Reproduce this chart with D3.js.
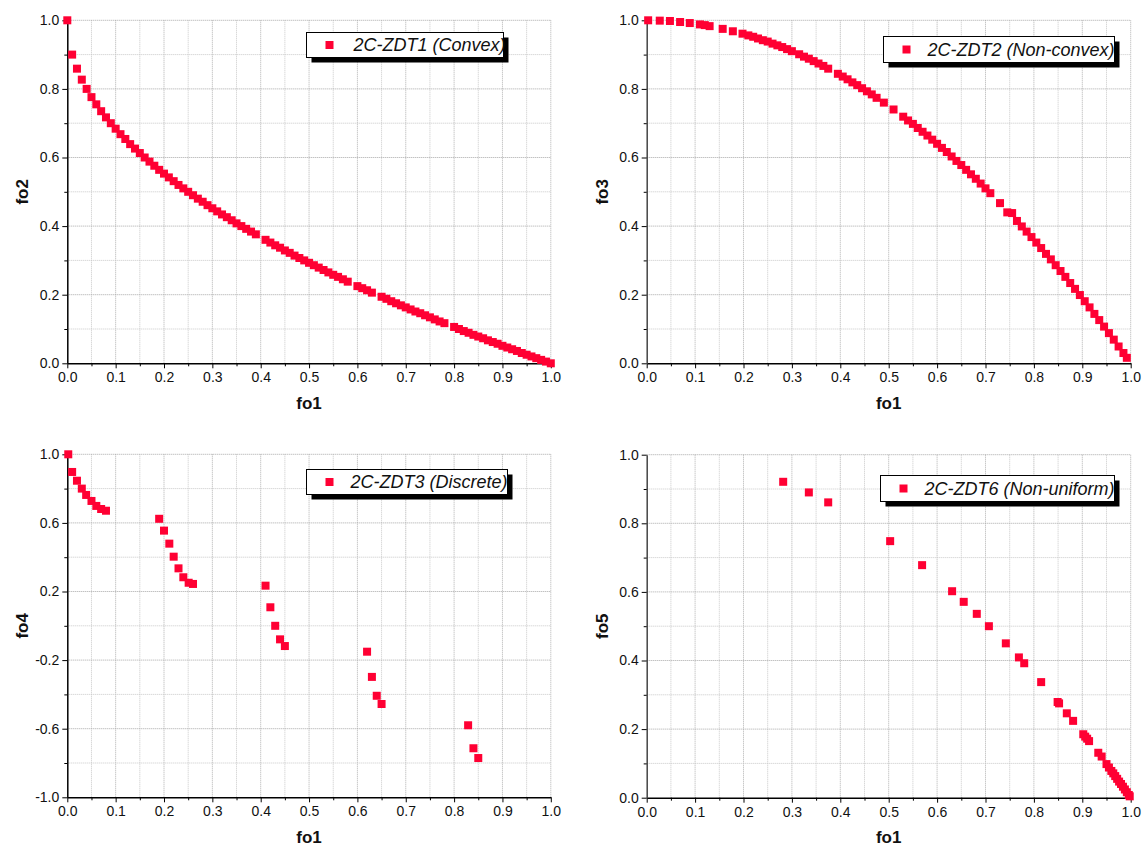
<!DOCTYPE html>
<html>
<head>
<meta charset="utf-8">
<script src="https://cdn.jsdelivr.net/npm/d3@7"></script>
<style>
html,body{margin:0;padding:0;background:#fff;}
svg{display:block;font-family:Arial,"Liberation Sans",sans-serif;}
</style>
</head>
<body>
<svg id="chart" width="1142" height="849"></svg>
<script>
// ---------- DATA ----------
const zdt1_f1 = [0,0.01,0.02,0.03,0.04,0.05,0.06,0.07,0.08,0.09,0.10,0.11,0.12,0.13,0.14,0.15,0.16,0.17,0.18,0.19,0.20,0.21,0.22,0.23,0.24,0.25,0.26,0.27,0.28,0.29,0.30,0.31,0.32,0.33,0.34,0.35,0.36,0.37,0.38,0.39,0.41,0.42,0.43,0.44,0.45,0.46,0.47,0.48,0.49,0.50,0.51,0.52,0.53,0.54,0.55,0.56,0.57,0.58,0.60,0.61,0.62,0.63,0.65,0.66,0.67,0.68,0.69,0.70,0.71,0.72,0.73,0.74,0.75,0.76,0.77,0.78,0.80,0.81,0.82,0.83,0.84,0.85,0.86,0.87,0.88,0.89,0.90,0.91,0.92,0.93,0.94,0.95,0.96,0.97,0.98,0.99,1.00];
const zdt1_f2 = [1.000,0.900,0.859,0.827,0.800,0.776,0.755,0.735,0.717,0.700,0.684,0.668,0.654,0.639,0.626,0.613,0.600,0.588,0.576,0.564,0.553,0.542,0.531,0.520,0.510,0.500,0.490,0.480,0.471,0.461,0.452,0.443,0.434,0.426,0.417,0.408,0.400,0.392,0.384,0.376,0.360,0.352,0.344,0.337,0.329,0.322,0.314,0.307,0.300,0.293,0.286,0.279,0.272,0.265,0.258,0.252,0.245,0.238,0.225,0.219,0.213,0.206,0.194,0.188,0.181,0.175,0.169,0.163,0.157,0.151,0.146,0.140,0.134,0.128,0.122,0.117,0.106,0.100,0.094,0.089,0.083,0.078,0.073,0.067,0.062,0.057,0.051,0.046,0.041,0.036,0.030,0.025,0.020,0.015,0.010,0.005,0.000];

const zdt2_f1 = [0.003,0.027,0.048,0.069,0.089,0.110,0.120,0.130,0.157,0.178,0.198,0.21,0.22,0.23,0.24,0.25,0.26,0.27,0.28,0.29,0.30,0.315,0.325,0.335,0.345,0.355,0.365,0.375,0.395,0.405,0.415,0.425,0.435,0.445,0.455,0.465,0.475,0.49,0.51,0.53,0.54,0.55,0.56,0.57,0.58,0.59,0.60,0.61,0.62,0.63,0.64,0.65,0.66,0.67,0.68,0.69,0.70,0.71,0.73,0.745,0.755,0.765,0.775,0.785,0.795,0.805,0.815,0.825,0.835,0.845,0.855,0.865,0.875,0.885,0.895,0.905,0.915,0.925,0.935,0.945,0.955,0.965,0.975,0.985,0.992];
const zdt2_f3 = [1.000,0.999,0.998,0.995,0.992,0.988,0.986,0.983,0.975,0.968,0.961,0.956,0.952,0.947,0.942,0.938,0.932,0.927,0.922,0.916,0.910,0.901,0.894,0.888,0.881,0.874,0.867,0.859,0.844,0.836,0.828,0.819,0.811,0.802,0.793,0.784,0.774,0.760,0.740,0.719,0.708,0.698,0.686,0.675,0.664,0.652,0.640,0.628,0.616,0.603,0.590,0.578,0.564,0.551,0.538,0.524,0.510,0.496,0.467,0.440,0.438,0.415,0.399,0.384,0.368,0.352,0.336,0.319,0.303,0.286,0.269,0.252,0.234,0.217,0.199,0.181,0.163,0.144,0.126,0.107,0.088,0.069,0.049,0.030,0.016];

const zdt3_f1 = [0.002,0.010,0.020,0.030,0.039,0.050,0.060,0.070,0.080,0.190,0.200,0.211,0.220,0.230,0.240,0.251,0.260,0.410,0.420,0.430,0.440,0.450,0.620,0.630,0.640,0.650,0.829,0.840,0.850];
const zdt3_f4 = [1.000,0.897,0.846,0.800,0.763,0.728,0.699,0.681,0.671,0.624,0.555,0.479,0.403,0.335,0.283,0.251,0.244,0.234,0.108,0.000,-0.079,-0.118,-0.151,-0.298,-0.408,-0.456,-0.580,-0.714,-0.771];

const zdt6_f1 = [0.282,0.335,0.375,0.503,0.569,0.631,0.655,0.682,0.707,0.742,0.769,0.780,0.815,0.849,0.852,0.868,0.881,0.902,0.906,0.910,0.914,0.933,0.940,0.950,0.955,0.960,0.964,0.968,0.972,0.976,0.980,0.984,0.988,0.992,0.996,0.998];
const zdt6_f5 = [0.921,0.890,0.861,0.748,0.678,0.602,0.571,0.536,0.500,0.450,0.409,0.392,0.337,0.279,0.275,0.246,0.224,0.185,0.178,0.172,0.165,0.131,0.120,0.098,0.088,0.078,0.071,0.063,0.055,0.047,0.040,0.032,0.024,0.016,0.008,0.004];

const xTicks = [0,0.1,0.2,0.3,0.4,0.5,0.6,0.7,0.8,0.9,1.0];
const xMinor = [0.05,0.15,0.25,0.35,0.45,0.55,0.65,0.75,0.85,0.95];
const yTicksStd = [0,0.2,0.4,0.6,0.8,1.0];
const yMinorStd = [0.1,0.3,0.5,0.7,0.9];
const yTicksZdt3 = [-1.0,-0.6,-0.2,0.2,0.6,1.0];
const yMinorZdt3 = [-0.8,-0.4,0,0.4,0.8];

const panels = [
  {x:zdt1_f1, y:zdt1_f2, xl:"fo1", yl:"fo2", legend:"2C-ZDT1 (Convex)", yDom:[0,1], yT:yTicksStd, yM:yMinorStd,
   xr:[67.3,550.8], yr:[363.3,20.3], ylx:22, xly:409, leg:{x:306.5,y:32.5,w:197,h:25,tx:47}, axisCol:"#000"},
  {x:zdt2_f1, y:zdt2_f3, xl:"fo1", yl:"fo3", legend:"2C-ZDT2 (Non-convex)", yDom:[0,1], yT:yTicksStd, yM:yMinorStd,
   xr:[646.7,1130.7], yr:[363.3,20.3], ylx:602, xly:409, leg:{x:883.5,y:36.5,w:231,h:26,tx:44}, axisCol:"#444"},
  {x:zdt3_f1, y:zdt3_f4, xl:"fo1", yl:"fo4", legend:"2C-ZDT3 (Discrete)", yDom:[-1,1], yT:yTicksZdt3, yM:yMinorZdt3,
   xr:[67.3,550.8], yr:[797.3,454.3], ylx:22, xly:843, leg:{x:306.5,y:469.5,w:201,h:25,tx:44}, axisCol:"#000"},
  {x:zdt6_f1, y:zdt6_f5, xl:"fo1", yl:"fo5", legend:"2C-ZDT6 (Non-uniform)", yDom:[0,1], yT:yTicksStd, yM:yMinorStd,
   xr:[646.7,1130.7], yr:[797.7,454.7], ylx:602, xly:843, leg:{x:880.5,y:475.5,w:234,h:26,tx:44}, axisCol:"#444"}
];

const RED = "#ff0033";
const svg = d3.select("#chart");
const fmt = v => v.toFixed(1);

panels.forEach(p => {
  const xs = d3.scaleLinear().domain([0,1]).range(p.xr);
  const ys = d3.scaleLinear().domain(p.yDom).range(p.yr);
  const g = svg.append("g");

  // grid
  const grid = g.append("g");
  xMinor.forEach(v => grid.append("line").attr("x1",xs(v)).attr("x2",xs(v)).attr("y1",p.yr[0]).attr("y2",p.yr[1])
    .attr("stroke","#c8c8c8").attr("stroke-width",1).attr("stroke-dasharray","1,1"));
  xTicks.slice(1).forEach(v => grid.append("line").attr("x1",xs(v)).attr("x2",xs(v)).attr("y1",p.yr[0]).attr("y2",p.yr[1])
    .attr("stroke","#b0b0b0").attr("stroke-width",1).attr("stroke-dasharray","1,1"));
  p.yM.forEach(v => grid.append("line").attr("x1",p.xr[0]).attr("x2",p.xr[1]).attr("y1",ys(v)).attr("y2",ys(v))
    .attr("stroke","#c8c8c8").attr("stroke-width",1).attr("stroke-dasharray","1,1"));
  p.yT.filter(v => v !== p.yDom[0]).forEach(v => grid.append("line").attr("x1",p.xr[0]).attr("x2",p.xr[1]).attr("y1",ys(v)).attr("y2",ys(v))
    .attr("stroke","#a8a8a8").attr("stroke-width",1).attr("stroke-dasharray","1,1"));

  // x axis
  const xAx = g.append("g").attr("transform",`translate(0,${p.yr[0]})`)
    .call(d3.axisBottom(xs).tickValues(xTicks).tickFormat(fmt).tickSizeInner(5).tickSizeOuter(0).tickPadding(4));
  xAx.select(".domain").attr("stroke","#000").attr("stroke-width",1.5);
  xAx.selectAll(".tick line").attr("stroke","#000");
  xAx.selectAll("text").attr("font-size",14).attr("fill","#111").attr("font-family","Arial, 'Liberation Sans', sans-serif");
  const xAxM = g.append("g").attr("transform",`translate(0,${p.yr[0]})`)
    .call(d3.axisBottom(xs).tickValues(xMinor).tickFormat("").tickSizeInner(3).tickSizeOuter(0));
  xAxM.select(".domain").remove();
  xAxM.selectAll(".tick line").attr("stroke","#000");

  // y axis
  const yAx = g.append("g").attr("transform",`translate(${p.xr[0]},0)`)
    .call(d3.axisLeft(ys).tickValues(p.yT).tickFormat(fmt).tickSizeInner(5).tickSizeOuter(0).tickPadding(3));
  yAx.select(".domain").attr("stroke",p.axisCol).attr("stroke-width",1.5);
  yAx.selectAll(".tick line").attr("stroke","#000");
  yAx.selectAll("text").attr("font-size",14).attr("fill","#111").attr("font-family","Arial, 'Liberation Sans', sans-serif");
  const yAxM = g.append("g").attr("transform",`translate(${p.xr[0]},0)`)
    .call(d3.axisLeft(ys).tickValues(p.yM).tickFormat("").tickSizeInner(3).tickSizeOuter(0));
  yAxM.select(".domain").remove();
  yAxM.selectAll(".tick line").attr("stroke","#000");

  // axis titles
  g.append("text").attr("x",(p.xr[0]+p.xr[1])/2).attr("y",p.xly).attr("text-anchor","middle")
    .attr("font-size",17).attr("font-weight","bold").attr("fill","#111").text(p.xl);
  g.append("text").attr("transform",`translate(${p.ylx},${(p.yr[0]+p.yr[1])/2}) rotate(-90)`)
    .attr("text-anchor","middle").attr("dy","0.35em")
    .attr("font-size",17).attr("font-weight","bold").attr("fill","#111").text(p.yl);

  // points
  const data = p.x.map((v,i)=>[v,p.y[i]]);
  const s = 8;
  g.append("g").selectAll("rect").data(data).join("rect")
    .attr("x",d=>xs(d[0])-s/2).attr("y",d=>ys(d[1])-s/2).attr("width",s).attr("height",s)
    .attr("fill",RED);

  // legend
  const L = p.leg;
  g.append("rect").attr("x",L.x+5).attr("y",L.y+5).attr("width",L.w).attr("height",L.h).attr("fill","#000");
  g.append("rect").attr("x",L.x).attr("y",L.y).attr("width",L.w).attr("height",L.h).attr("fill","#fff")
    .attr("stroke","#000").attr("stroke-width",1);
  g.append("rect").attr("x",L.x+19).attr("y",L.y+L.h/2-4).attr("width",8).attr("height",8).attr("fill",RED);
  g.append("text").attr("x",L.x+L.tx).attr("y",L.y+L.h/2).attr("dy","0.35em")
    .attr("font-size",18).attr("font-style","italic").attr("fill","#111").text(p.legend);
});
</script>
</body>
</html>
